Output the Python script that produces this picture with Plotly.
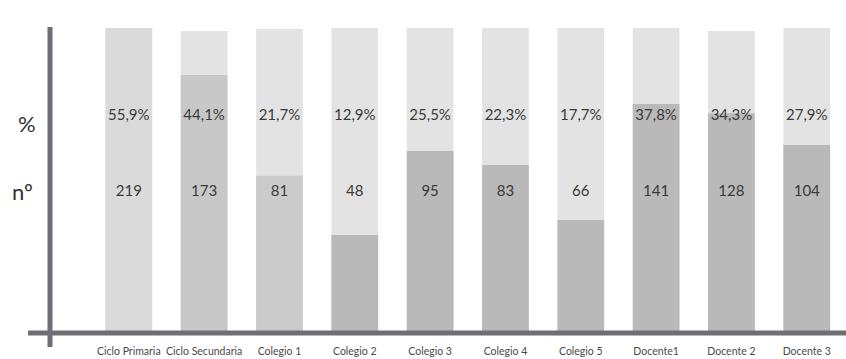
import plotly.graph_objects as go

# ---- data ----
categories = ["Ciclo Primaria", "Ciclo Secundaria", "Colegio 1", "Colegio 2", "Colegio 3",
              "Colegio 4", "Colegio 5", "Docente1", "Docente 2", "Docente 3"]
percent_labels = ["55,9%", "44,1%", "21,7%", "12,9%", "25,5%", "22,3%", "17,7%", "37,8%", "34,3%", "27,9%"]
counts = [219, 173, 81, 48, 95, 83, 66, 141, 128, 104]
# bar heights on a 0-100 visual scale (full column and shaded part)
bar_full = [100, 99, 99.7, 100, 100, 100, 100, 100, 99, 100]
bar_shaded = [100, 84.5, 51.2, 31.7, 59.4, 54.8, 36.6, 74.9, 71.9, 61.4]

# ---- styles ----
light_color = "#e3e3e3"
shaded_colors = ["#dadada", "#c8c8c8", "#cbcbcb", "#b9b9b9", "#b9b9b9",
                 "#b9b9b9", "#b9b9b9", "#b9b9b9", "#b9b9b9", "#b9b9b9"]
axis_color = "#6e6e76"
text_color = "#3a3a3a"
font_family = "Lato, 'Open Sans', sans-serif"
bar_w = 0.62

fig = go.Figure()
fig.add_trace(go.Bar(x=categories, y=bar_full, width=bar_w, marker_color=light_color,
                     marker_line_width=0, hoverinfo="skip", showlegend=False))
fig.add_trace(go.Bar(x=categories, y=bar_shaded, width=bar_w, marker_color=shaded_colors,
                     marker_line_width=0, hoverinfo="skip", showlegend=False))
fig.add_trace(go.Scatter(x=categories, y=[70.8] * len(categories), mode="text",
                         text=percent_labels, textposition="middle center",
                         textfont=dict(size=15, color=text_color, family=font_family),
                         hoverinfo="skip", showlegend=False))
fig.add_trace(go.Scatter(x=categories, y=[45.9] * len(categories), mode="text",
                         text=[str(c) for c in counts], textposition="middle center",
                         textfont=dict(size=15, color=text_color, family=font_family),
                         hoverinfo="skip", showlegend=False))

fig.update_layout(
    width=846, height=359,
    margin=dict(l=50, r=0, t=28, b=28),
    barmode="overlay",
    plot_bgcolor="white", paper_bgcolor="white",
    font=dict(family=font_family, color=text_color),
    xaxis=dict(range=[-1.046, 9.521], showgrid=False, zeroline=False, showline=False,
               ticks="", ticklabelstandoff=12,
               tickfont=dict(size=10.5, color="#4a4a4a", family=font_family)),
    yaxis=dict(range=[0, 100], showgrid=False, zeroline=False, showline=False,
               showticklabels=False, ticks=""),
    shapes=[
        dict(type="line", xref="paper", yref="paper", x0=0, x1=0, y0=1.0033, y1=-0.0528,
             line=dict(color=axis_color, width=5)),
        dict(type="line", xref="paper", yref="paper", x0=-0.0276, x1=1.0, y0=-0.0066, y1=-0.0066,
             line=dict(color=axis_color, width=5)),
    ],
    annotations=[
        dict(text="%", xref="paper", yref="paper", x=-0.0289, y=0.685,
             xanchor="center", yanchor="middle", showarrow=False,
             font=dict(size=22, color="#333333", family=font_family)),
        dict(text="nº", xref="paper", yref="paper", x=-0.034, y=0.459,
             xanchor="center", yanchor="middle", showarrow=False,
             font=dict(size=22, color="#333333", family=font_family)),
    ],
)

fig.write_html("out.html")
